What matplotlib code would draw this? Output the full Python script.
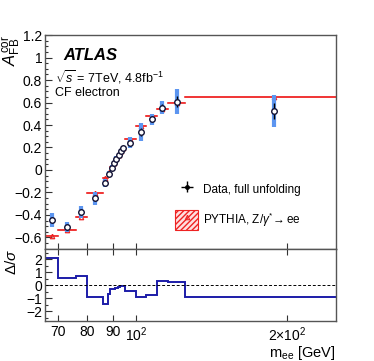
import numpy as np
import matplotlib
matplotlib.use("Agg")
import matplotlib.pyplot as plt
from matplotlib.ticker import FixedLocator, FuncFormatter, MultipleLocator, NullLocator
from matplotlib.patches import Patch
from matplotlib.lines import Line2D
from matplotlib.legend_handler import HandlerTuple

plt.rcParams['font.family'] = ['Liberation Sans', 'DejaVu Sans']
plt.rcParams['mathtext.fontset'] = 'custom'
plt.rcParams['mathtext.rm'] = 'Liberation Sans'
plt.rcParams['mathtext.it'] = 'Liberation Sans:italic'
plt.rcParams['hatch.color'] = '#ee2222'

# mass bin edges [GeV]
edges = [66, 70, 76, 80, 86, 88, 89, 90, 91, 92, 93, 94, 95, 100, 105, 110, 116, 125, 250]
# mean mass of data in each bin
m_mean = [68, 73, 78, 83, 87, 88.5, 89.5, 90.5, 91.5, 92.5, 93.5, 94.5, 97.5, 102.5, 107.5, 113, 120.5, 188]
afb_data = [-0.444, -0.507, -0.373, -0.252, -0.117, -0.032, 0.021, 0.060, 0.101, 0.133,
            0.166, 0.196, 0.243, 0.338, 0.450, 0.554, 0.608, 0.525]
err_tot = [0.064, 0.045, 0.056, 0.056, 0.037, 0.025, 0.020, 0.020, 0.020, 0.020,
           0.020, 0.020, 0.049, 0.080, 0.052, 0.060, 0.110, 0.140]
err_stat = [0.030, 0.020, 0.025, 0.025, 0.015, 0.010, 0.008, 0.008, 0.008, 0.008,
            0.008, 0.008, 0.020, 0.035, 0.025, 0.030, 0.050, 0.075]
afb_mc = [-0.583, -0.536, -0.418, -0.201, -0.070, -0.019, 0.027, 0.066, 0.105, 0.136,
          0.168, 0.197, 0.273, 0.391, 0.480, 0.540, 0.600, 0.652]
err_mc = [0.008] * 18
pull = [2.05, 0.55, 0.73, -0.90, -1.45, -0.66, -0.32, -0.28, -0.22, -0.17,
        -0.10, -0.05, -0.45, -0.90, -0.75, 0.33, 0.23, -0.90]

edges_a = np.array(edges, dtype=float)
lo = edges_a[:-1]
hi = edges_a[1:]

fig = plt.figure(figsize=(3.74, 3.61), dpi=100)
ax = fig.add_axes([0.1203, 0.311, 0.778, 0.592])
axr = fig.add_axes([0.1203, 0.111, 0.778, 0.200], sharex=ax)

red = '#ee2222'
blue = '#5c95f0'

# MC: band + line + marker
for i in range(len(lo)):
    ax.fill_between([lo[i], hi[i]], afb_mc[i] - err_mc[i], afb_mc[i] + err_mc[i],
                    facecolor='#ffb0b0', edgecolor='none', zorder=1)
    ax.plot([lo[i], hi[i]], [afb_mc[i], afb_mc[i]], color=red, lw=1.2, zorder=2)
ax.plot(m_mean, afb_mc, ls='none', marker='^', ms=3.2, color=red, mfc='none', mew=0.9, zorder=2)

# data
ax.errorbar(m_mean, afb_data, yerr=err_tot, fmt='none', ecolor=blue, elinewidth=3, zorder=3)
ax.errorbar(m_mean, afb_data, yerr=err_stat, fmt='none', ecolor='k', elinewidth=1, zorder=4)
ax.plot(m_mean, afb_data, ls='none', marker='o', ms=4, mfc='white', mec='#111133', mew=1.0, zorder=5)

ax.set_xscale('log')
ax.set_xlim(66, 250)
ax.set_ylim(-0.7, 1.2)

fmt = FuncFormatter(lambda v, p: ('%g' % round(v, 2)).replace('-', '\u2212'))
ax.yaxis.set_major_locator(MultipleLocator(0.2))
ax.yaxis.set_minor_locator(MultipleLocator(0.05))
ax.yaxis.set_major_formatter(fmt)

xt = [70, 80, 90, 100, 200]
xl = ['70', '80', '90', r'$10^2$', r'$2{\times}10^2$']
for a in (ax, axr):
    a.xaxis.set_major_locator(FixedLocator(xt))
    a.xaxis.set_minor_locator(NullLocator())
    a.tick_params(axis='both', which='both', direction='in', labelsize=10, width=0.8, color='#333333')
    a.tick_params(axis='y', which='major', length=5, pad=2)
    a.tick_params(axis='y', which='minor', length=2.5)
    a.tick_params(axis='x', which='major', length=4, pad=3)
    for s in a.spines.values():
        s.set_color('#555555')
        s.set_linewidth(1)
ax.tick_params(axis='x', labelbottom=False)
axr.tick_params(axis='x', top=True)
axr.set_xticklabels(xl)

ax.set_ylabel(r'$A_{\rm FB}^{\rm cor}$', fontsize=12, loc='top')
ax.yaxis.set_label_coords(-0.08, 1.0)

# texts
ax.text(0.063, 0.905, 'ATLAS', transform=ax.transAxes, fontsize=12, fontweight='bold',
        fontstyle='italic', va='center')
ax.text(0.033, 0.805, r'$\sqrt{s}$ = 7TeV, 4.8fb$^{-1}$', transform=ax.transAxes, fontsize=9, va='center')
ax.text(0.035, 0.73, 'CF electron', transform=ax.transAxes, fontsize=9, va='center')

# legend
h_data = ax.errorbar([np.nan], [np.nan], xerr=[1], yerr=[1], fmt='o', color='k', ms=2.5, lw=1)
h_box = Patch(facecolor='#ffe0e0', edgecolor=red, hatch='//////', lw=0.8)
h_tri = Line2D([], [], ls='none', marker='^', ms=3.2, color=red, mfc='none', mew=0.8)
ax.legend([h_data, (h_box, h_tri)], ['Data, full unfolding', r'PYTHIA, Z/$\gamma^{*}\!\rightarrow$ee'],
          handler_map={tuple: HandlerTuple(ndivide=1, pad=0)},
          loc='upper left', bbox_to_anchor=(0.43, 0.345), frameon=False, fontsize=8.5,
          handlelength=2.0, handleheight=2.2, labelspacing=0.9, handletextpad=0.4, borderaxespad=0)

# ratio
axr.stairs(pull, edges_a, color='#1c1ca8', lw=1.4, baseline=None)
axr.axhline(0, color='k', ls=(0, (3, 2)), lw=0.7)
axr.set_ylim(-2.75, 2.8)
axr.yaxis.set_major_locator(MultipleLocator(1))
axr.yaxis.set_minor_locator(MultipleLocator(0.5))
axr.yaxis.set_major_formatter(FuncFormatter(lambda v, p: ('%g' % v).replace('-', '\u2212')))
axr.set_ylabel(r'$\Delta/\sigma$', fontsize=11, loc='top')
axr.yaxis.set_label_coords(-0.09, 1.0)
axr.set_xlabel(r'm$_{\rm ee}$ [GeV]', fontsize=10.5, loc='right')
axr.xaxis.set_label_coords(1.0, -0.315)

fig.savefig('out.png', dpi=100)
